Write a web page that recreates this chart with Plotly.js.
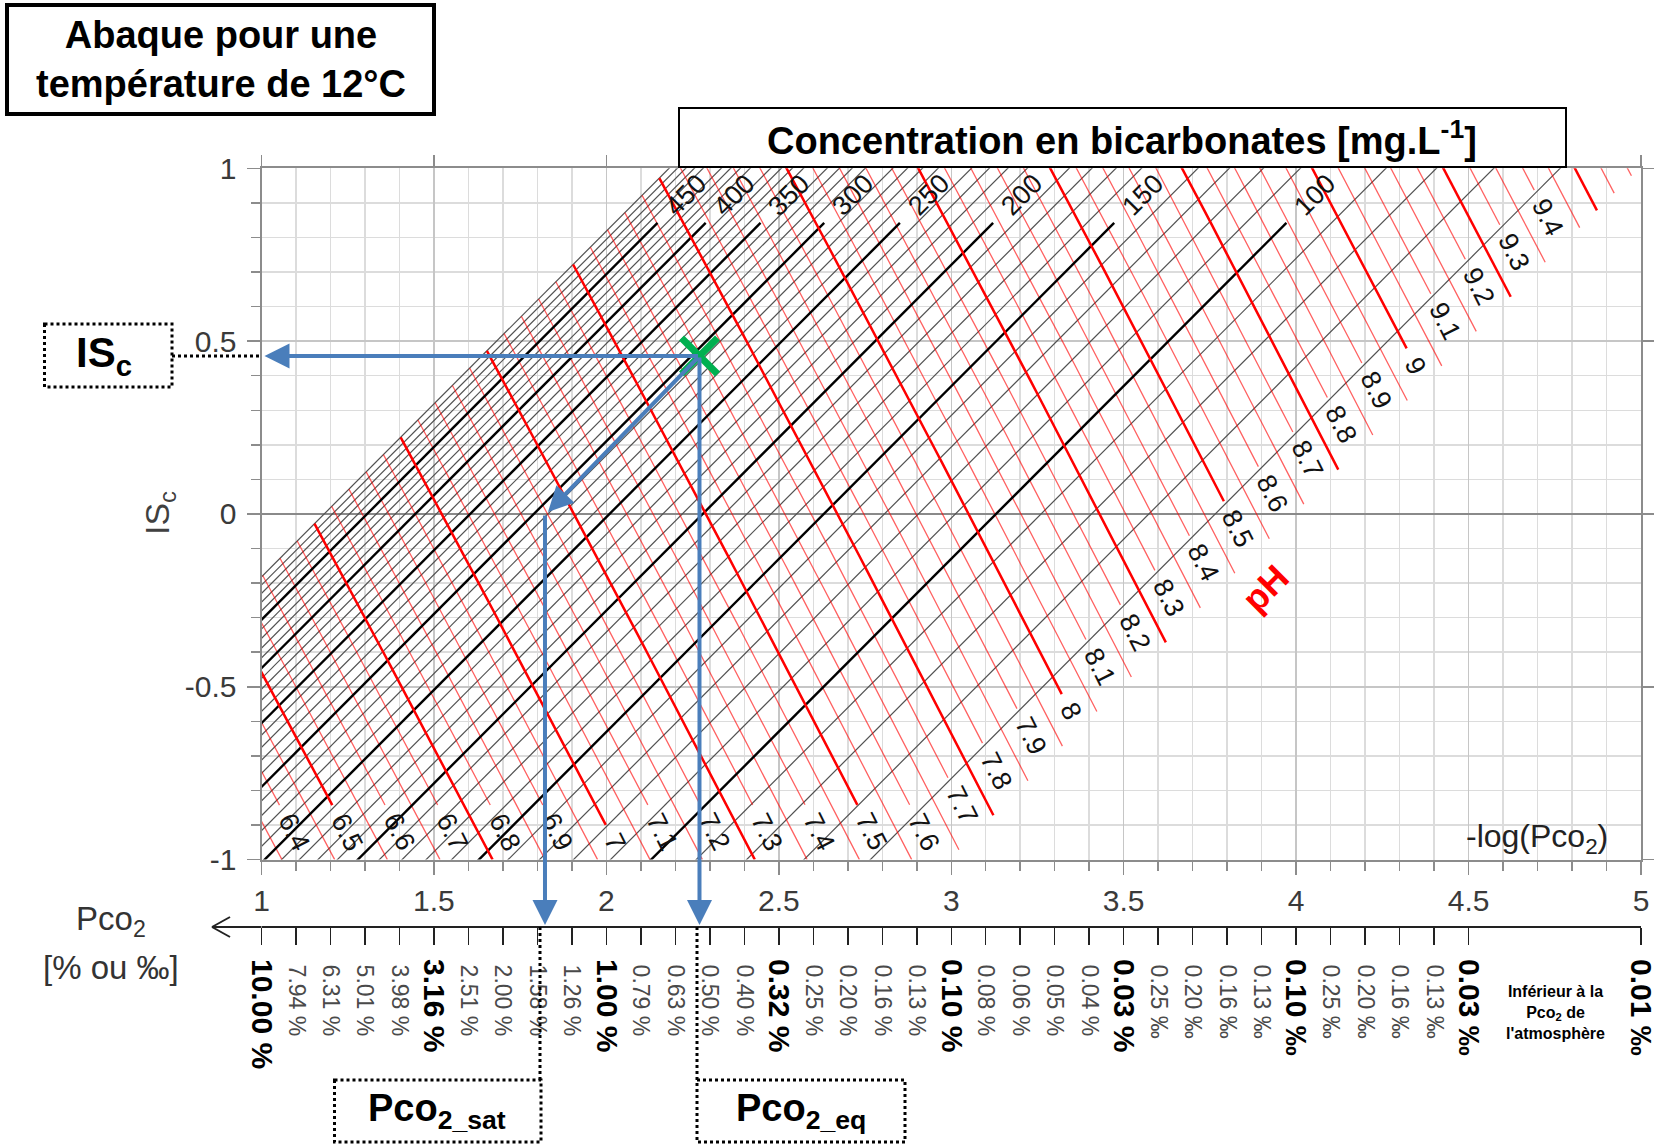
<!DOCTYPE html>
<html>
<head>
<meta charset="utf-8">
<script src="https://cdn.plot.ly/plotly-3.0.1.min.js"></script>
<style>
html,body{margin:0;padding:0;background:#ffffff;}
#chart{width:1660px;height:1144px;}
</style>
</head>
<body>
<div id="chart"></div>
<script>
// ---------------- data ----------------
// bicarbonate concentration lines [mg/L]
const hco3Lines = [60,70,80,90,100,110,120,130,140,150,160,170,180,190,200,210,220,230,240,250,
                   260,270,280,290,300,310,320,330,340,350,360,370,380,390,400,410,420,430,440,450,
                   460,470,480,490,500];
const hco3Labeled = [100,150,200,250,300,350,400,450];
const hco3Extent = [50, 500];          // HCO3 span covered by the pH family
// pH lines
const phLines = [6.35,6.4,6.45,6.5,6.55,6.6,6.65,6.7,6.75,6.8,6.85,6.9,6.95,7,7.05,7.1,7.15,7.2,7.25,7.3,
                 7.35,7.4,7.45,7.5,7.55,7.6,7.65,7.7,7.75,7.8,7.85,7.9,7.95,8,8.05,8.1,8.15,8.2,8.25,8.3,
                 8.35,8.4,8.45,8.5,8.55,8.6,8.65,8.7,8.75,8.8,8.85,8.9,8.95,9,9.05,9.1,9.15,9.2,9.25,9.3,
                 9.35,9.4,9.45,9.5,9.55,9.6];
const phLabeled = [6.4,6.5,6.6,6.7,6.8,6.9,7,7.1,7.2,7.3,7.4,7.5,7.6,7.7,7.8,7.9,8,8.1,8.2,8.3,
                   8.4,8.5,8.6,8.7,8.8,8.9,9,9.1,9.2,9.3,9.4];
const phThick = [6.5,6.75,7,7.25,7.5,7.75,8,8.25,8.5,8.75,9,9.25,9.5];
// example point (green cross) and the saturation point on ISc = 0
const pointX = [2.27];
const pointY = [0.457];
const satPointX = [1.822];
const satPointY = [0.0];
// axis ticks
const yTickVals = [-1,-0.5,0,0.5,1];
const yTickText = ['-1','-0.5','0','0.5','1'];
const pco2TickVals = [1,1.1,1.2,1.3,1.4,1.5,1.6,1.7,1.8,1.9,2,2.1,2.2,2.3,2.4,2.5,2.6,2.7,2.8,2.9,
                      3,3.1,3.2,3.3,3.4,3.5,3.6,3.7,3.8,3.9,4,4.1,4.2,4.3,4.4,4.5,5];
const pco2Labels = ['10.00 %','7.94 %','6.31 %','5.01 %','3.98 %','3.16 %','2.51 %','2.00 %','1.58 %','1.26 %',
                    '1.00 %','0.79 %','0.63 %','0.50 %','0.40 %','0.32 %','0.25 %','0.20 %','0.16 %','0.13 %',
                    '0.10 %','0.08 %','0.06 %','0.05 %','0.04 %','0.03 %','0.25 ‰','0.20 ‰','0.16 ‰','0.13 ‰',
                    '0.10 ‰','0.25 ‰','0.20 ‰','0.16 ‰','0.13 ‰','0.03 ‰','0.01 ‰'];
const pco2Bold = [1,0,0,0,0,1,0,0,0,0, 1,0,0,0,0,1,0,0,0,0, 1,0,0,0,0,1,0,0,0,0, 1,0,0,0,0,1,1];
// chemistry constants for 12 °C (fitted to the chart)
const A_CONST = -7.731;   // -(pK1 + pKH)
const B_CONST = -2.365;   // pKs - pK2 - log 2
const HCO3_MG_PER_MOL = 61017;

// ---------------- geometry / style ----------------
const W = 1660, H = 1144;
const PL = 261.5, PR = 1641, PT = 168.3, PB = 859.6;   // plot area in px
const PXU = (PR - PL) / 4;
const FONT = 'Liberation Sans, Arial, sans-serif';
const LABEL_FS = 27;
const BIC_LINE_END_Y = 0.842, BIC_LABEL_Y = 0.924;
const BLUE = '#4A7EBB';
const pxX = x => PL + (x - 1) / 4 * (PR - PL);
const pxY = y => PT + (1 - y) / 2 * (PB - PT);
const papX = px => px / W;
const papY = py => 1 - py / H;

function davies(m){ const I = 1.5*m, s = Math.sqrt(I); return 0.5*(s/(1+s) - 0.3*I); }
function chart(pH, h){
  const m = h / HCO3_MG_PER_MOL, d = davies(m), L = Math.log10(m);
  return [pH - L + d + A_CONST, pH + 2*L - 5*d + B_CONST];
}
function bisect(f, lo, hi){
  for (let i = 0; i < 80; i++){ const mid = 0.5*(lo+hi); if (f(mid) < 0) lo = mid; else hi = mid; }
  return 0.5*(lo+hi);
}
const fmt = v => (Math.round(v*100)/100).toString();
function textW(s, fs){ let w = 0; for (const c of s) w += (c === '.' ? 0.278 : 0.556)*fs; return w; }
const isIn = (v, arr) => arr.some(a => Math.abs(a - v) < 1e-6);

const annotations = [];

// ---------- pH lines ----------
const redThin = {x:[], y:[]}, redThick = {x:[], y:[]};
phLines.forEach(pH => {
  const hLo = hco3Extent[0], hHi = hco3Extent[1];
  if (chart(pH, hHi)[1] < -1) return;
  const hEnd = chart(pH, hLo)[1] >= -1 ? hLo : bisect(h => chart(pH, h)[1] + 1, hLo, hHi);
  const E = chart(pH, hEnd);
  const dist = h => { const p = chart(pH, h); return Math.hypot(p[0]-E[0], p[1]-E[1]) * PXU; };
  let hStart = hEnd;
  if (isIn(pH, phLabeled)){
    const txt = fmt(pH);
    const gap = textW(txt, LABEL_FS) + 24;
    hStart = bisect(h => dist(h) - gap, hEnd, hHi);
    const hMid = bisect(h => dist(h) - gap/2, hEnd, hHi);
    const c = chart(pH, hMid);
    annotations.push({x:c[0], y:c[1], xref:'x', yref:'y', text:txt, showarrow:false, textangle:63.4,
      xanchor:'center', yanchor:'middle', font:{family:FONT, size:LABEL_FS, color:'#111'}});
  }
  const tgt = isIn(pH, phThick) ? redThick : redThin;
  const N = 40;
  for (let i = 0; i <= N; i++){
    const h = hStart * Math.pow(hHi/hStart, i/N);
    const p = chart(pH, h);
    tgt.x.push(p[0]); tgt.y.push(p[1]);
  }
  tgt.x.push(null); tgt.y.push(null);
});

// ---------- bicarbonate lines ----------
const grayThin = {x:[], y:[]}, blackThick = {x:[], y:[]};
hco3Lines.forEach(h => {
  const m = h / HCO3_MG_PER_MOL, d = davies(m), L = Math.log10(m);
  const yOff = 2*L - 5*d + B_CONST;
  const labeled = hco3Labeled.includes(h);
  const pLo = -1.6 - yOff;
  const pHi = (labeled ? BIC_LINE_END_Y : 1.6) - yOff;
  const tgt = labeled ? blackThick : grayThin;
  const a = chart(pLo, h), b = chart(pHi, h);
  tgt.x.push(a[0], b[0], null); tgt.y.push(a[1], b[1], null);
  if (labeled){
    const c = chart(BIC_LABEL_Y - yOff, h);
    annotations.push({x:c[0], y:c[1], xref:'x', yref:'y', text:String(h), showarrow:false, textangle:-45,
      xanchor:'center', yanchor:'middle', font:{family:FONT, size:LABEL_FS, color:'#111'}});
  }
});

const traces = [
  {type:'scatter', mode:'lines', x:grayThin.x, y:grayThin.y, line:{color:'#505050', width:1.2}, hoverinfo:'skip', connectgaps:false},
  {type:'scatter', mode:'lines', x:redThin.x, y:redThin.y, line:{color:'rgba(255,0,0,0.62)', width:1.3}, hoverinfo:'skip', connectgaps:false},
  {type:'scatter', mode:'lines', x:blackThick.x, y:blackThick.y, line:{color:'#000000', width:2.4}, hoverinfo:'skip', connectgaps:false},
  {type:'scatter', mode:'lines', x:redThick.x, y:redThick.y, line:{color:'#ff0000', width:2.5}, hoverinfo:'skip', connectgaps:false},
  // helper traces to activate the extra axes
  {type:'scatter', mode:'markers', x:[1,5], y:[-1,1], xaxis:'x3', yaxis:'y3', marker:{opacity:0}, hoverinfo:'skip'},
  {type:'scatter', mode:'markers', x:[1,5], y:[0,0], xaxis:'x2', yaxis:'y', marker:{opacity:0}, hoverinfo:'skip'},
  {type:'scatter', mode:'markers', x:[1,5], y:[0,0], xaxis:'x4', yaxis:'y', marker:{opacity:0}, hoverinfo:'skip'}
];

// ---------- blue arrows ----------
function arrow(tipPx, tipPy, tailPx, tailPy){
  annotations.push({xref:'paper', yref:'paper', x:papX(tipPx), y:papY(tipPy), ax:tailPx - tipPx, ay:tailPy - tipPy,
    text:'', showarrow:true, arrowhead:2, arrowsize:1.25, arrowwidth:4, arrowcolor:BLUE, standoff:0});
}
const AX2_PY = 927;
const xP = pxX(pointX[0]), yP = pxY(pointY[0]);
arrow(pxX(1) + 3, yP, xP, yP);                                    // to ISc axis
arrow(xP, AX2_PY - 2, xP, yP);                                    // to Pco2 eq
arrow(pxX(satPointX[0]) + 3, pxY(satPointY[0]) - 2, xP, yP);      // along the HCO3 line
arrow(pxX(satPointX[0]), AX2_PY - 2, pxX(satPointX[0]), pxY(satPointY[0])); // to Pco2 sat

// ---------- green marker ----------
traces.push({type:'scatter', mode:'markers', x:pointX, y:pointY, cliponaxis:false, hoverinfo:'skip',
  marker:{symbol:'x-thin', size:36, color:'#00B050', line:{color:'#00B050', width:7}}});

// ---------- texts ----------
function txt(px, py, text, size, opts){
  annotations.push(Object.assign({xref:'paper', yref:'paper', x:papX(px), y:papY(py), text:text, showarrow:false,
    xanchor:'center', yanchor:'middle', font:{family:FONT, size:size, color:'#000'}}, opts||{}));
}
txt(220.5, 59.5, '<b>Abaque pour une<br>température de 12°C</b>', 38);
txt(1122, 138, '<b>Concentration en bicarbonates [mg.L<sup>-1</sup>]</b>', 38);
txt(104, 355, '<b>IS<sub>c</sub></b>', 42);
txt(437, 1111, '<b>Pco<sub>2_sat</sub></b>', 38);
txt(801, 1111, '<b>Pco<sub>2_eq</sub></b>', 38);
txt(159, 513, 'IS<sub>c</sub>', 34, {textangle:-90, font:{family:FONT, size:34, color:'#404040'}});
txt(1537, 838, '-log(Pco<sub>2</sub>)', 32, {font:{family:FONT, size:32, color:'#222'}});
txt(111, 921, 'Pco<sub>2</sub>', 33, {font:{family:FONT, size:33, color:'#333'}});
txt(111, 967, '[% ou ‰]', 33, {font:{family:FONT, size:33, color:'#333'}});
txt(1265, 588, '<b>pH</b>', 36, {textangle:-45, font:{family:FONT, size:36, color:'#ff0000'}});
txt(1555, 1012, '<b>Inférieur à la<br>Pco<sub>2</sub> de<br>l\'atmosphère</b>', 16);

// ---------- shapes ----------
function rect(x0,y0,x1,y1,w,dash){
  return {type:'rect', xref:'paper', yref:'paper', x0:papX(x0), x1:papX(x1), y0:papY(y0), y1:papY(y1),
    line:{color:'#000', width:w, dash:dash||'solid'}, fillcolor:'#ffffff', layer:'above'};
}
function seg(x0,y0,x1,y1,w,dash,color){
  return {type:'line', xref:'paper', yref:'paper', x0:papX(x0), x1:papX(x1), y0:papY(y0), y1:papY(y1),
    line:{color:color||'#000', width:w, dash:dash||'solid'}, layer:'above'};
}
const shapes = [
  rect(7,5,434,114,4),
  rect(679,108,1566,167,2),
  rect(44.5,324,172,387,3,'dot'),
  seg(172,356,PL,356,3,'dot'),
  rect(334.5,1080,541,1142,3,'dot'),
  rect(697,1080,905,1142,3,'dot'),
  seg(540,AX2_PY,540,1080,3,'dot'),
  seg(697,AX2_PY,697,1080,3,'dot'),
  seg(212,AX2_PY,PL,AX2_PY,2,'solid','#222'),
  seg(212,AX2_PY,230,AX2_PY-10,2,'solid','#222'),
  seg(212,AX2_PY,230,AX2_PY+10,2,'solid','#222')
];

// ---------- axes ----------
const AXC = '#8c8c8c';
const pco2Reg = pco2Labels.map((t,i) => pco2Bold[i] ? '' : t);
const pco2BoldVals = pco2TickVals.filter((v,i) => pco2Bold[i]);
const pco2BoldText = pco2Labels.filter((t,i) => pco2Bold[i]);
const xdom = [PL/W, PR/W], ydom = [1 - PB/H, 1 - PT/H];

const layout = {
  width: W, height: H, margin:{l:0, r:0, t:0, b:0}, paper_bgcolor:'#fff', plot_bgcolor:'#fff',
  showlegend:false, font:{family:FONT},
  xaxis:{domain:xdom, range:[1,5], tick0:0, dtick:0.5, automargin:false, fixedrange:true,
    showgrid:true, gridcolor:'#c6c6c6', gridwidth:1.5, zeroline:false,
    showline:true, linecolor:AXC, linewidth:2, mirror:true,
    ticks:'outside', ticklen:13, tickwidth:1.5, tickcolor:AXC, ticklabelstandoff:0,
    tickfont:{family:FONT, size:30, color:'#3a3a3a'},
    minor:{tick0:0, dtick:0.1, ticks:'outside', ticklen:9, tickwidth:1.5, tickcolor:AXC,
           showgrid:true, gridcolor:'#dcdcdc', gridwidth:1.5}},
  yaxis:{domain:ydom, range:[-1,1], tickvals:yTickVals, ticktext:yTickText, automargin:false, fixedrange:true,
    showgrid:true, gridcolor:'#c6c6c6', gridwidth:1.5,
    zeroline:true, zerolinecolor:'#8a8a8a', zerolinewidth:2.2,
    showline:true, linecolor:AXC, linewidth:2, mirror:true,
    ticks:'outside', ticklen:13, tickwidth:1.5, tickcolor:AXC, ticklabelstandoff:4,
    tickfont:{family:FONT, size:30, color:'#3a3a3a'},
    minor:{tick0:0, dtick:0.1, ticks:'outside', ticklen:9, tickwidth:1.5, tickcolor:AXC,
           showgrid:true, gridcolor:'#dcdcdc', gridwidth:1.5}},
  xaxis3:{overlaying:'x', side:'top', anchor:'y3', range:[1,5], tick0:0, dtick:0.5, showgrid:false, zeroline:false,
    showline:false, ticks:'outside', ticklen:12, tickwidth:1.5, tickcolor:AXC, showticklabels:false, fixedrange:true},
  yaxis3:{overlaying:'y', side:'right', anchor:'x3', range:[-1,1], tick0:0, dtick:0.5, showgrid:false, zeroline:false,
    showline:false, ticks:'outside', ticklen:12, tickwidth:1.5, tickcolor:AXC, showticklabels:false, fixedrange:true},
  xaxis2:{overlaying:'x', anchor:'free', position:papY(AX2_PY), side:'bottom', range:[1,5],
    tickvals:pco2TickVals, ticktext:pco2Reg, tickangle:90, ticks:'outside', ticklen:17, tickwidth:1.5, tickcolor:'#222',
    showline:true, linecolor:'#222', linewidth:2, showgrid:false, zeroline:false, ticklabelstandoff:15,
    tickfont:{family:FONT, size:23, color:'#4a4a4a'}, fixedrange:true},
  xaxis4:{overlaying:'x', anchor:'free', position:papY(AX2_PY), side:'bottom', range:[1,5],
    tickvals:pco2BoldVals, ticktext:pco2BoldText, tickangle:90, ticks:'', ticklen:17,
    showline:false, showgrid:false, zeroline:false, ticklabelstandoff:31,
    tickfont:{family:FONT, size:30, color:'#000', weight:'bold'}, fixedrange:true},
  shapes: shapes,
  annotations: annotations
};

Plotly.newPlot('chart', traces, layout, {displayModeBar:false, staticPlot:true});
</script>
</body>
</html>
